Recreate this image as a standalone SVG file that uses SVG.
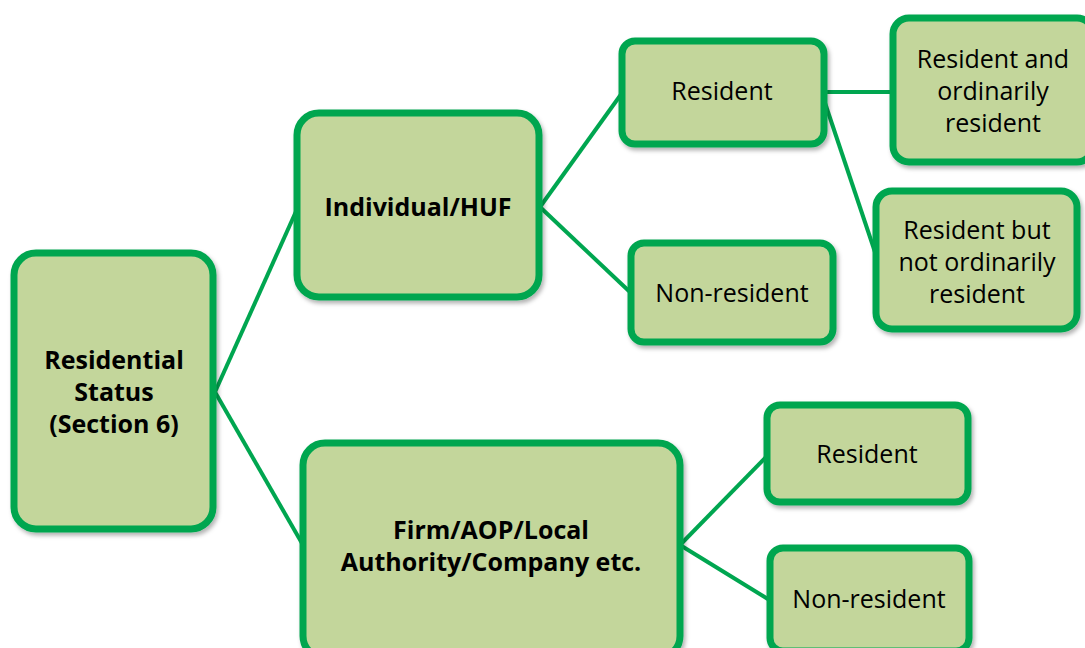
<svg xmlns="http://www.w3.org/2000/svg" width="1085" height="648" viewBox="0 0 1085 648">
<defs>
<filter id="sh" x="-10%" y="-10%" width="125%" height="125%">
<feDropShadow dx="2" dy="3" stdDeviation="2" flood-color="#000" flood-opacity="0.3"/>
</filter>
</defs>
<style>
.box{fill:#C3D69B;stroke:#00A650;stroke-width:7;filter:url(#sh)}
.t{font-family:"Open Sans","Noto Sans","DejaVu Sans",sans-serif;font-size:25px;fill:#000;text-anchor:middle}
.b{font-weight:bold}
.c{stroke:#00A650;stroke-width:4;fill:none}
</style>
<rect width="1085" height="648" fill="#fff"/>
<g id="connectors">
<line class="c" x1="215" y1="392" x2="298" y2="207"/>
<line class="c" x1="215" y1="392" x2="303" y2="545"/>
<line class="c" x1="540" y1="207" x2="622" y2="93"/>
<line class="c" x1="540" y1="207" x2="631" y2="293"/>
<line class="c" x1="824" y1="92" x2="893" y2="92"/>
<line class="c" x1="824" y1="100" x2="876" y2="255"/>
<line class="c" x1="680" y1="545" x2="768" y2="455"/>
<line class="c" x1="680" y1="545" x2="771" y2="601"/>
</g>
<g id="root">
<rect class="box" x="14" y="253" width="199" height="276" rx="22"/>
<text class="t b" x="114" y="369">Residential</text>
<text class="t b" x="114" y="401">Status</text>
<text class="t b" x="114" y="433">(Section 6)</text>
</g>
<g id="individual">
<rect class="box" x="297" y="113" width="242" height="184" rx="22"/>
<text class="t b" x="418" y="216">Individual/HUF</text>
</g>
<g id="firm">
<rect class="box" x="303" y="443" width="377" height="215" rx="22"/>
<text class="t b" x="491" y="539">Firm/AOP/Local</text>
<text class="t b" x="491" y="571">Authority/Company etc.</text>
</g>
<g id="ind-resident">
<rect class="box" x="622" y="41" width="202" height="103" rx="13"/>
<text class="t" x="722" y="100">Resident</text>
</g>
<g id="ind-nonresident">
<rect class="box" x="631" y="243" width="202" height="99" rx="13"/>
<text class="t" x="732" y="302">Non-resident</text>
</g>
<g id="ror">
<rect class="box" x="893" y="18" width="200" height="144" rx="16"/>
<text class="t" x="993" y="68">Resident and</text>
<text class="t" x="993" y="100">ordinarily</text>
<text class="t" x="993" y="132">resident</text>
</g>
<g id="rnor">
<rect class="box" x="876" y="191" width="201" height="138" rx="16"/>
<text class="t" x="977" y="239">Resident but</text>
<text class="t" x="977" y="271">not ordinarily</text>
<text class="t" x="977" y="303">resident</text>
</g>
<g id="firm-resident">
<rect class="box" x="767" y="405" width="201" height="97" rx="13"/>
<text class="t" x="867" y="463">Resident</text>
</g>
<g id="firm-nonresident">
<rect class="box" x="770" y="548" width="199" height="103" rx="13"/>
<text class="t" x="869" y="608">Non-resident</text>
</g>
</svg>
